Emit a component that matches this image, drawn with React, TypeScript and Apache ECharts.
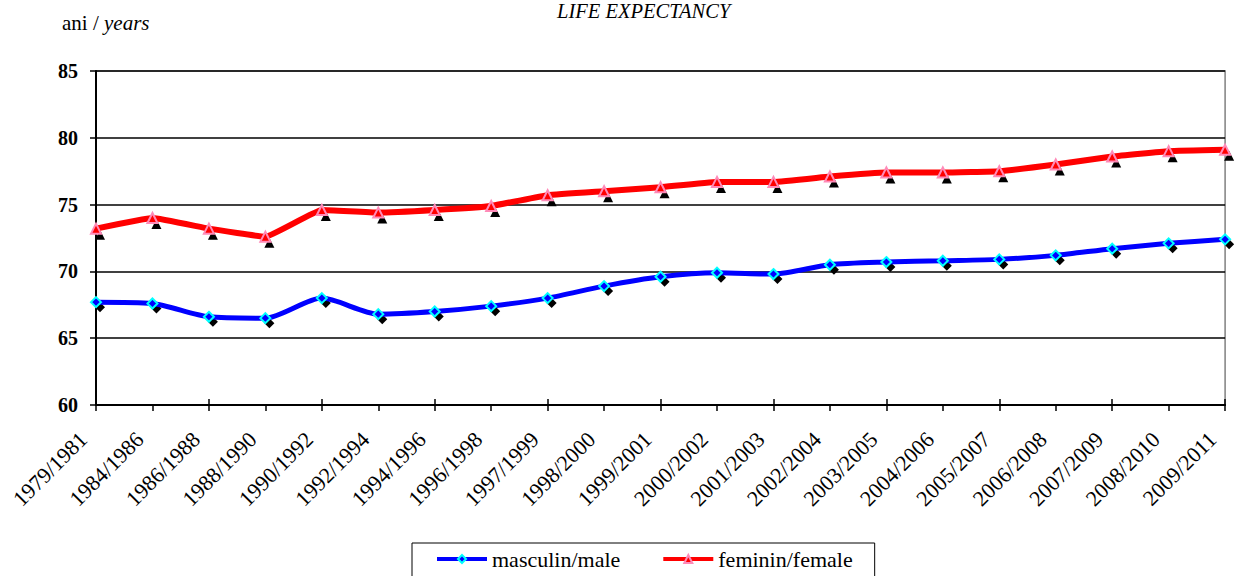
import React, { useEffect, useRef } from "react";
import * as echarts from "echarts";

const categories = [
  "1979/1981", "1984/1986", "1986/1988", "1988/1990", "1990/1992", "1992/1994",
  "1994/1996", "1996/1998", "1997/1999", "1998/2000", "1999/2001", "2000/2002",
  "2001/2003", "2002/2004", "2003/2005", "2004/2006", "2005/2007", "2006/2008",
  "2007/2009", "2008/2010", "2009/2011",
];
const maleValues = [
  67.7, 67.6, 66.6, 66.5, 68.0, 66.8, 67.0, 67.4, 68.0, 68.9, 69.6, 69.9,
  69.8, 70.5, 70.7, 70.8, 70.9, 71.2, 71.7, 72.1, 72.4,
];
const femaleValues = [
  73.2, 74.0, 73.2, 72.6, 74.6, 74.4, 74.6, 74.9, 75.7, 76.0, 76.3, 76.7,
  76.7, 77.1, 77.4, 77.4, 77.5, 78.0, 78.6, 79.0, 79.1,
];
const maleName = "masculin/male";
const femaleName = "feminin/female";
const chartTitle = "LIFE EXPECTANCY";

const SERIF = "'Liberation Serif', 'Times New Roman', serif";

export default function App() {
  const ref = useRef<HTMLDivElement>(null);
  useEffect(() => {
    if (!ref.current) return;
    const chart = echarts.init(ref.current, null, { renderer: "svg" });
    chart.setOption({
      animation: false,
      backgroundColor: "#ffffff",
      title: {
        text: chartTitle,
        left: 557,
        top: 1,
        padding: 0,
        textStyle: { fontFamily: SERIF, fontStyle: "italic", fontWeight: "normal", fontSize: 20.5, color: "#000" },
      },
      graphic: [
        {
          type: "text",
          left: 62,
          top: 12,
          style: {
            text: "{a|ani / }{b|years}",
            rich: {
              a: { fontFamily: SERIF, fontSize: 21, fill: "#000" },
              b: { fontFamily: SERIF, fontSize: 21, fontStyle: "italic", fill: "#000" },
            },
          },
        },
      ],
      legend: {
        data: [maleName, femaleName],
        left: 412,
        top: 543,
        padding: [5, 22, 20, 23],
        itemGap: 41,
        itemWidth: 50,
        itemHeight: 10,
        borderColor: "#000",
        borderWidth: 1,
        lineStyle: { width: 4 },
        textStyle: { fontFamily: SERIF, fontSize: 22, color: "#000" },
      },
      grid: {
        left: 96,
        right: 3,
        top: 71,
        bottom: 171,
        show: true,
        borderColor: "#808080",
        borderWidth: 1.5,
        backgroundColor: "transparent",
      },
      xAxis: [
        {
          type: "category",
          data: categories,
          boundaryGap: false,
          axisLine: { show: true, lineStyle: { color: "#000", width: 2 } },
          axisTick: { show: true, alignWithLabel: true, length: 6, lineStyle: { color: "#000", width: 1.5 } },
          axisLabel: {
            interval: 0,
            rotate: 45,
            margin: 18,
            formatter: (v: string) => `{t|${v}}{g| }`,
            rich: {
              t: { fontFamily: SERIF, fontSize: 22, color: "#000" },
              g: { width: 18, fontSize: 22 },
            },
            fontFamily: SERIF,
            fontSize: 22,
            color: "#000",
          },
          splitLine: { show: false },
        },
        {
          type: "category",
          data: categories,
          boundaryGap: false,
          position: "bottom",
          axisLine: { show: false },
          axisTick: { show: true, inside: true, length: 6, lineStyle: { color: "#000", width: 1.5 } },
          axisLabel: { show: false },
          splitLine: { show: false },
        },
      ],
      yAxis: {
        type: "value",
        min: 60,
        max: 85,
        interval: 5,
        axisLine: { show: true, lineStyle: { color: "#000", width: 2 } },
        axisTick: { show: true, length: 6, lineStyle: { color: "#000", width: 1.5 } },
        axisLabel: {
          margin: 18,
          fontFamily: SERIF,
          fontSize: 20,
          fontWeight: "bold",
          color: "#000",
        },
        splitLine: { show: true, lineStyle: { color: "#000", width: 1.5 } },
      },
      series: [
        {
          name: "maleShadow",
          type: "line",
          data: maleValues,
          symbol: "diamond",
          symbolSize: 10,
          symbolOffset: [4, 5],
          showAllSymbol: true,
          lineStyle: { opacity: 0, width: 0 },
          itemStyle: { color: "#000", borderWidth: 0 },
          silent: true,
          z: 1,
        },
        {
          name: "femaleShadow",
          type: "line",
          data: femaleValues,
          symbol: "triangle",
          symbolSize: 10,
          symbolOffset: [4, 6],
          showAllSymbol: true,
          lineStyle: { opacity: 0, width: 0 },
          itemStyle: { color: "#000", borderWidth: 0 },
          silent: true,
          z: 1,
        },
        {
          name: maleName,
          type: "line",
          data: maleValues,
          smooth: 0.25,
          symbol: "diamond",
          symbolSize: 10,
          showAllSymbol: true,
          lineStyle: { color: "#0000ff", width: 5 },
          itemStyle: { color: "#0000ff", borderColor: "#00ffff", borderWidth: 2 },
          z: 3,
        },
        {
          name: femaleName,
          type: "line",
          data: femaleValues,
          smooth: 0.1,
          symbol: "triangle",
          symbolSize: 10,
          showAllSymbol: true,
          lineStyle: { color: "#ff0000", width: 6 },
          itemStyle: { color: "#ff0000", borderColor: "#ff8ab8", borderWidth: 2 },
          z: 3,
        },
      ],
    });
    return () => chart.dispose();
  }, []);
  return (
    <div
      ref={ref}
      style={{ position: "absolute", left: 0, top: 0, width: 1235, height: 576 }}
    />
  );
}
